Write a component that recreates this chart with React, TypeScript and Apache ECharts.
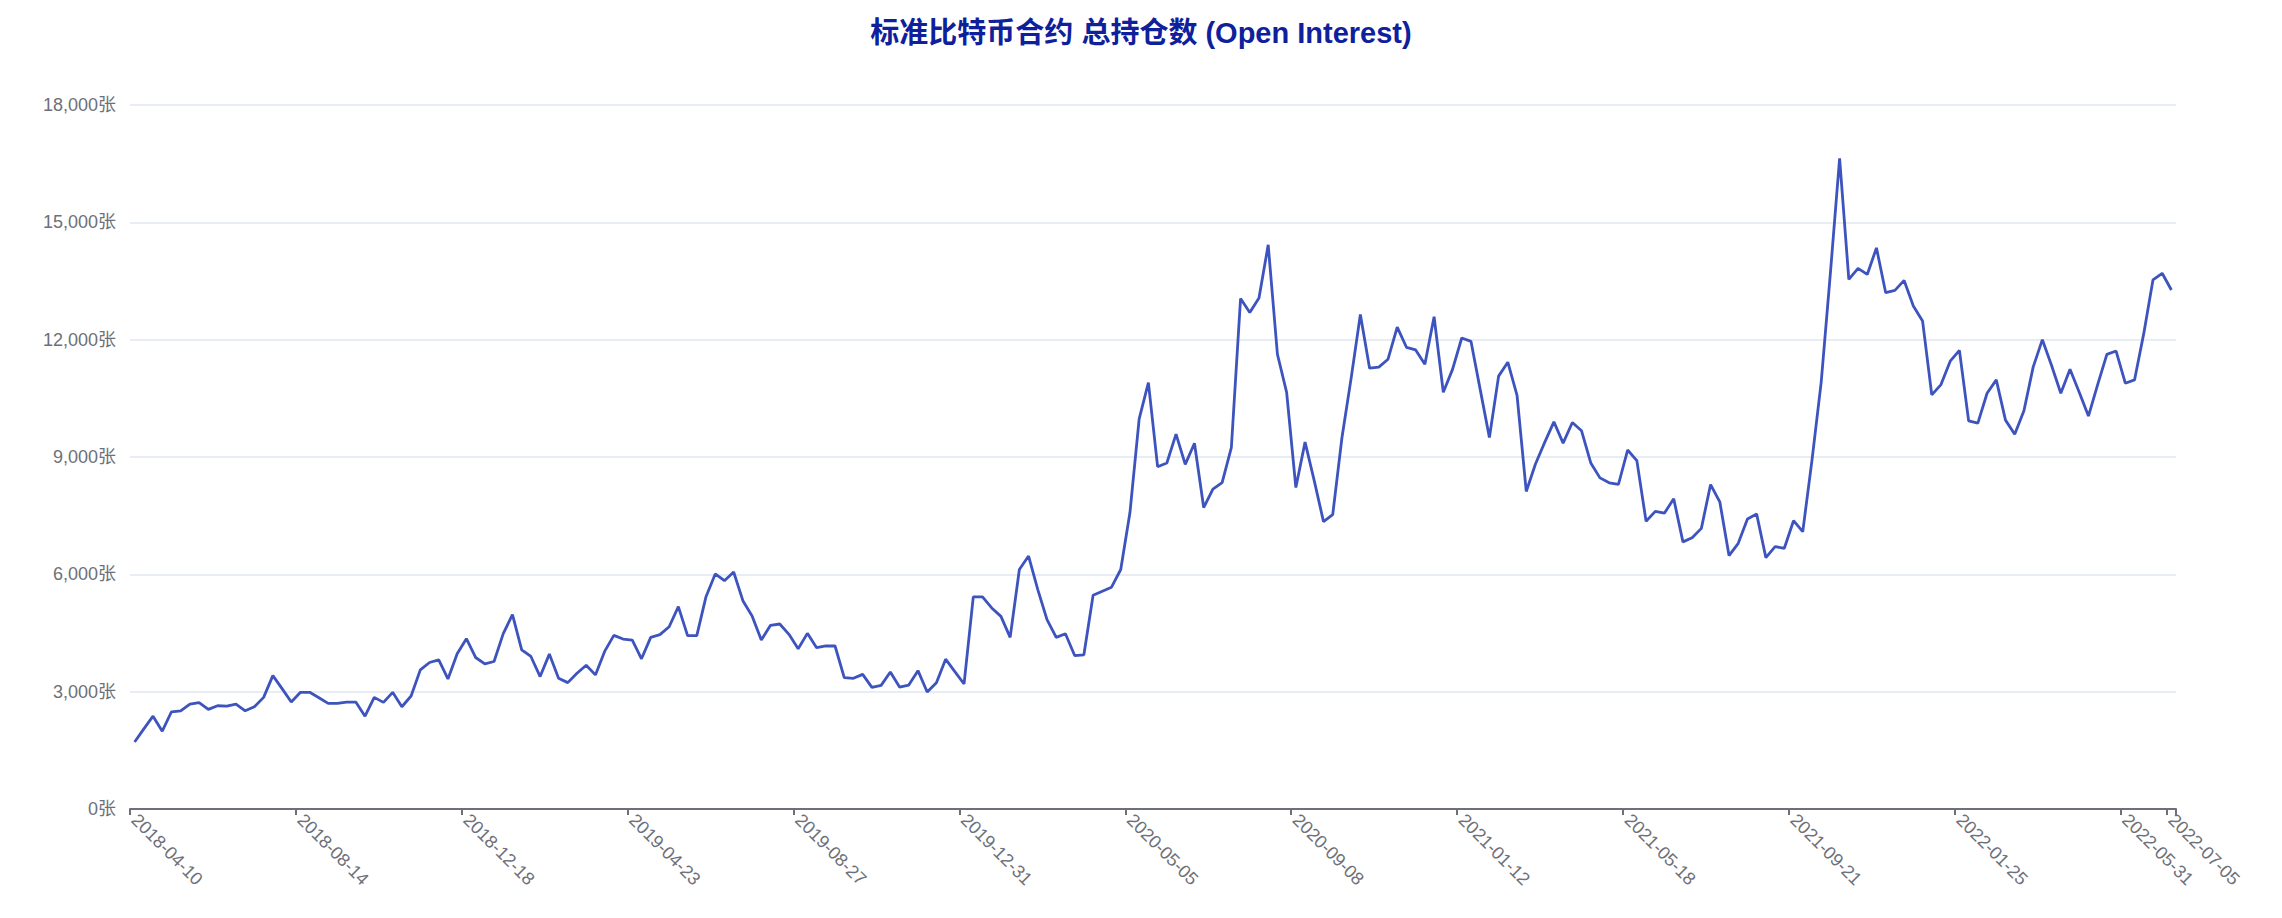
import React, { useEffect, useRef } from "react";
import * as echarts from "echarts";

const TITLE = "标准比特币合约 总持仓数 (Open Interest)";
const START_DATE = "2018-04-10";
const WEEK_COUNT = 222;

const openInterest: number[] = [
  1714, 2049, 2374, 1989, 2486, 2511, 2683, 2717, 2546, 2640,
  2631, 2683, 2511, 2614, 2854, 3411, 3077, 2734, 2983, 2983,
  2846, 2700, 2700, 2734, 2734, 2374, 2854, 2726, 2983, 2614,
  2889, 3557, 3746, 3814, 3326, 3969, 4354, 3874, 3711, 3771,
  4483, 4971, 4071, 3900, 3386, 3960, 3343, 3231, 3471, 3677,
  3429, 4029, 4440, 4346, 4320, 3840, 4389, 4457, 4660, 5173,
  4432, 4432, 5429, 6009, 5838, 6060, 5327, 4935, 4321, 4696,
  4730, 4466, 4099, 4491, 4125, 4168, 4168, 3358, 3341, 3443,
  3111, 3162, 3503, 3119, 3170, 3537, 2991, 3230, 3830, 3514,
  3197, 5422, 5422, 5140, 4926, 4387, 6124, 6467, 5611, 4840,
  4387, 4481, 3924, 3942, 5465, 5568, 5671, 6124, 7580, 9976,
  10901, 8752, 8846, 9583, 8812, 9352, 7708, 8178, 8347, 9237,
  13051, 12695, 13068, 14424, 11627, 10653, 8220, 9381, 8390, 7347,
  7525, 9492, 11017, 12644, 11271, 11297, 11500, 12322, 11805, 11737,
  11373, 12585, 10653, 11240, 12043, 11958, 10729, 9500, 11068, 11424,
  10576, 8119, 8822, 9373, 9898, 9356, 9881, 9670, 8847, 8466,
  8339, 8297, 9178, 8907, 7356, 7610, 7568, 7932, 6830, 6935,
  7175, 8296, 7854, 6479, 6793, 7413, 7540, 6428, 6709, 6666,
  7371, 7090, 8915, 10910, 13700, 16638, 13541, 13821, 13668, 14347,
  13201, 13260, 13515, 12862, 12480, 10590, 10851, 11451, 11726, 9926,
  9866, 10629, 10971, 9943, 9583, 10183, 11297, 12000, 11340, 10629,
  11246, 10654, 10046, 10851, 11623, 11709, 10886, 10971, 12154, 13526,
  13697, 13269,
];

function buildWeeklyDates(start: string, count: number): string[] {
  const out: string[] = [];
  const base = new Date(start + "T00:00:00Z").getTime();
  for (let i = 0; i < count; i++) {
    const d = new Date(base + i * 7 * 86400000);
    out.push(d.toISOString().slice(0, 10));
  }
  return out;
}

const dates: string[] = buildWeeklyDates(START_DATE, WEEK_COUNT);

const Y_MIN = 0;
const Y_MAX = 18000;
const Y_INTERVAL = 3000;

const FONT = "'Liberation Sans', 'Noto Sans CJK SC', sans-serif";

export default function App() {
  const ref = useRef<HTMLDivElement>(null);

  useEffect(() => {
    document.body.style.margin = "0";
    if (!ref.current) return;
    const chart = echarts.init(ref.current, undefined, { renderer: "svg" });
    chart.setOption({
      animation: false,
      backgroundColor: "#ffffff",
      title: {
        text: TITLE,
        left: "center",
        top: 13,
        textStyle: {
          color: "#0f209c",
          fontSize: 29,
          fontWeight: "bold",
          fontFamily: FONT,
        },
      },
      grid: { left: 130, right: 106, top: 105, bottom: 109, containLabel: false },
      xAxis: {
        type: "category",
        data: dates,
        boundaryGap: true,
        axisLine: { lineStyle: { color: "#6E7079", width: 2 } },
        axisTick: { show: true, length: 6, lineStyle: { color: "#6E7079", width: 2 } },
        axisLabel: {
          interval: 17,
          showMaxLabel: true,
          rotate: -45,
          fontSize: 18,
          color: "#6E7079",
          fontFamily: FONT,
        },
      },
      yAxis: {
        type: "value",
        min: Y_MIN,
        max: Y_MAX,
        interval: Y_INTERVAL,
        axisLine: { show: false },
        axisTick: { show: false },
        splitLine: { lineStyle: { color: "#E0E6F1", width: 1.5 } },
        axisLabel: {
          fontSize: 18,
          color: "#6E7079",
          margin: 14,
          fontFamily: FONT,
          formatter: (v: number) => v.toLocaleString("en-US") + "张",
        },
      },
      series: [
        {
          type: "line",
          data: openInterest,
          showSymbol: false,
          symbol: "none",
          lineStyle: { color: "#3D53BE", width: 2.8 },
          itemStyle: { color: "#3D53BE" },
        },
      ],
    });
    return () => chart.dispose();
  }, []);

  return <div ref={ref} style={{ width: 2282, height: 918 }} />;
}
